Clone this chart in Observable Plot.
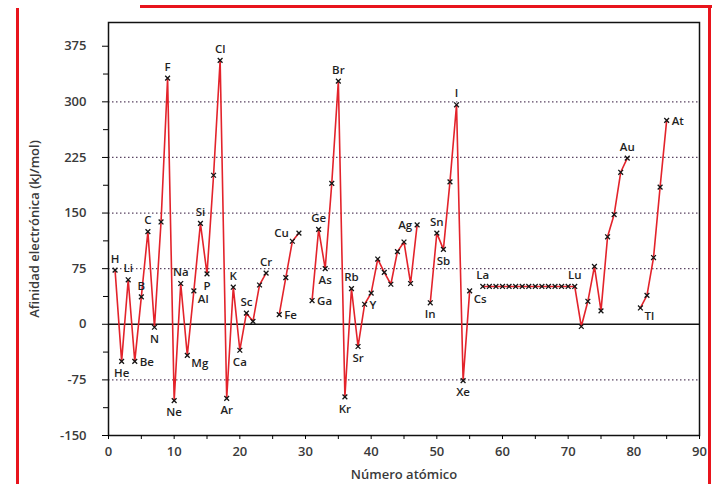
<!DOCTYPE html>
<html>
<head>
<meta charset="utf-8">
<script src="https://cdn.jsdelivr.net/npm/d3@7"></script>
<script src="https://cdn.jsdelivr.net/npm/@observablehq/plot@0.6"></script>
<style>
  html, body { margin: 0; padding: 0; background: #fff; }
  #wrap { position: relative; width: 712px; height: 484px; overflow: hidden; background: #fff; }
  .red { position: absolute; background: #e8141c; }
</style>
</head>
<body>
<div id="wrap">
  <div id="chart"></div>
  <div class="red" style="left:140px; top:5px; width:572px; height:2.5px;"></div>
  <div class="red" style="left:16px; top:8px; width:2.5px; height:476px;"></div>
  <div class="red" style="left:708px; top:5px; width:2.5px; height:479px;"></div>
</div>
<script>
// Atomic numbers 1..85, symbols, electron affinity (kJ/mol) (null = not plotted)
const symbols = ["H","He","Li","Be","B","C","N","O","F","Ne","Na","Mg","Al","Si","P","S","Cl","Ar","K","Ca",
  "Sc","Ti","V","Cr","Mn","Fe","Co","Ni","Cu","Zn","Ga","Ge","As","Se","Br","Kr","Rb","Sr","Y","Zr",
  "Nb","Mo","Tc","Ru","Rh","Pd","Ag","Cd","In","Sn","Sb","Te","I","Xe","Cs","Ba","La","Ce","Pr","Nd",
  "Pm","Sm","Eu","Gd","Tb","Dy","Ho","Er","Tm","Yb","Lu","Hf","Ta","W","Re","Os","Ir","Pt","Au","Hg",
  "Tl","Pb","Bi","Po","At"];
const affinity = [73,-50,60,-50,37,125,-4,138,332,-103,55,-42,45,136,68,201,356,-100,50,-35,
  15,4,53,69,null,13,63,112,123,null,32,128,75,190,328,-98,48,-30,27,42,
  88,70,54,98,111,55,134,null,29,123,101,192,296,-76,45,null,51,51,51,51,
  51,51,51,51,51,51,51,51,51,51,51,-3,31,78,18,118,148,205,224,null,
  22,39,90,185,275];

// Labelled elements and where their label sits relative to the marker
const labelNames = ["H","He","Li","Be","B","C","N","F","Ne","Na","Mg","Al","Si","P","Cl","Ar","K","Ca","Sc","Cr",
  "Fe","Cu","Ga","Ge","As","Br","Kr","Rb","Sr","Y","Ag","In","Sn","Sb","I","Xe","Cs","La","Lu","Au","Tl","At"];
const labelPlaces = ["above","below","above","right","above","above","below","above","below","above","belowright","belowright","above","below","above","below","above","below","above","above",
  "right","farleft","right","above","below","above","below","above","below","right","left","below","above","below","above","below","belowright","above","above","above","belowright","right"];

const yMajorTicks = [-150,-75,0,75,150,225,300,375];
const yMinorTicks = [-112.5,-37.5,37.5,112.5,187.5,262.5,337.5];
const gridValues = [-75,75,150,225,300];
const xMajorTicks = [0,10,20,30,40,50,60,70,80,90];
const xMinorTicks = [5,15,25,35,45,55,65,75,85];

const points = symbols.map((s, i) => ({z: i + 1, sym: s, v: affinity[i]}));
const labels = labelNames.map((n, i) => {
  const p = points.find(d => d.sym === n);
  return {z: p.z, v: p.v, text: n, place: labelPlaces[i]};
});

const placeStyle = {
  above: {dx: 0, dy: -11, textAnchor: "middle"},
  below: {dx: 0, dy: 12, textAnchor: "middle"},
  left: {dx: -5, dy: 0, textAnchor: "end"},
  farleft: {dx: -10, dy: 0, textAnchor: "end"},
  right: {dx: 5, dy: 1, textAnchor: "start"},
  belowright: {dx: 4, dy: 8, textAnchor: "start"}
};

const labelMarks = Object.entries(placeStyle).map(([k, st]) =>
  Plot.text(labels.filter(d => d.place === k), {
    x: "z", y: "v", text: "text", dx: st.dx, dy: st.dy, textAnchor: st.textAnchor,
    fontSize: 11.5, fontWeight: 600, fill: "#1f1f1f"
  })
);

const chart = Plot.plot({
  width: 712,
  height: 484,
  marginLeft: 108,
  marginRight: 13,
  marginTop: 22,
  marginBottom: 49,
  style: {fontFamily: "'Open Sans', sans-serif", background: "transparent", overflow: "visible"},
  x: {domain: [0, 90]},
  y: {domain: [-150, 407]},
  marks: [
    Plot.ruleY(gridValues, {stroke: "#5a4462", strokeWidth: 1.2, strokeDasharray: "1.5,2.5"}),
    Plot.ruleY([0], {stroke: "#111", strokeWidth: 1.6}),
    Plot.frame({stroke: "#111", strokeWidth: 1.5}),
    Plot.axisY(yMajorTicks, {tickSize: 6, tickPadding: 16, fontSize: 13, fontWeight: 600, fill: "#3a3a3a",
      tickFormat: d => String(d),
      label: "Afinidad electrónica (kJ/mol)", labelAnchor: "center", labelArrow: "none", labelOffset: 79}),
    Plot.axisY(yMinorTicks, {tickSize: 5, tickFormat: () => "", label: null}),
    Plot.axisX(xMajorTicks, {tickSize: 4, tickPadding: 7, fontSize: 13, fontWeight: 600, fill: "#3a3a3a",
      tickFormat: d => String(d),
      label: "Número atómico", labelAnchor: "center", labelArrow: "none", labelOffset: 43}),
    Plot.axisX(xMinorTicks, {tickSize: 4, tickFormat: () => "", label: null}),
    Plot.line(points, {x: "z", y: "v", stroke: "#e3232b", strokeWidth: 1.6}),
    Plot.dot(points, {x: "z", y: "v", symbol: "times", r: 2.3, stroke: "#151515", strokeWidth: 1.3}),
    ...labelMarks
  ]
});
document.getElementById("chart").appendChild(chart);
</script>
</body>
</html>
